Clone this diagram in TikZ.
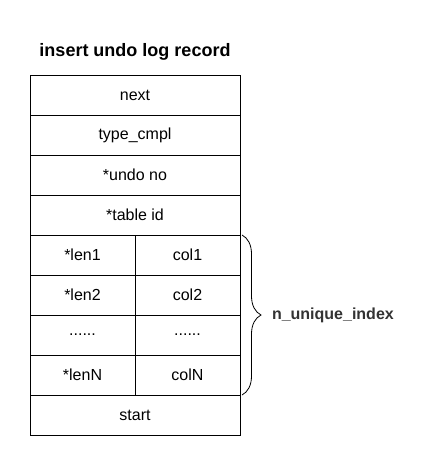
\documentclass[tikz,border=0pt]{standalone}
\usepackage{fontspec}
\setmainfont{Liberation Sans}
\usepackage{xcolor}
\usepackage{tikz}
\usetikzlibrary{positioning,decorations.pathreplacing}

\definecolor{labelgray}{HTML}{333333}

\begin{document}
\begin{tikzpicture}[
    x=1pt, y=-1pt,
    every node/.style={outer sep=0pt, inner sep=0pt},
    wide/.style={draw, line width=0.8pt, minimum width=210pt, minimum height=40pt, font=\fontsize{16}{18}\selectfont},
    half/.style={draw, line width=0.8pt, minimum width=105pt, minimum height=40pt, font=\fontsize{16}{18}\selectfont}
]
\useasboundingbox (0,0) rectangle (433,466);

\node[font=\bfseries\fontsize{18}{20}\selectfont] (title) at (135,52) {insert undo log record};

% fixed header
\node[wide] (next) at (135,95) {next};
\node[wide, below=0pt of next] (type) {type\_cmpl};
\node[wide, below=0pt of type] (undono) {*undo no};
\node[wide, below=0pt of undono] (tableid) {*table id};

% unique index columns
\node[half, anchor=north west] (len1) at (tableid.south west) {*len1};
\node[half, right=0pt of len1] (col1) {col1};
\node[half, below=0pt of len1] (len2) {*len2};
\node[half, right=0pt of len2] (col2) {col2};
\node[half, below=0pt of len2] (lendots) {......};
\node[half, right=0pt of lendots] (coldots) {......};
\node[half, below=0pt of lendots] (lenN) {*lenN};
\node[half, right=0pt of lenN] (colN) {colN};

\node[wide, anchor=north west] (start) at (lenN.south west) {start};

% brace
\draw[line width=0.8pt, decorate, decoration={brace, amplitude=19pt}]
    ([xshift=2pt]col1.north east) -- ([xshift=2pt]colN.south east)
    coordinate[midway] (bracemid);
\node[font=\bfseries\fontsize{16}{18}\selectfont, text=labelgray, anchor=west] (nidx)
    at ([xshift=30pt]bracemid) {n\_unique\_index};
\end{tikzpicture}
\end{document}
